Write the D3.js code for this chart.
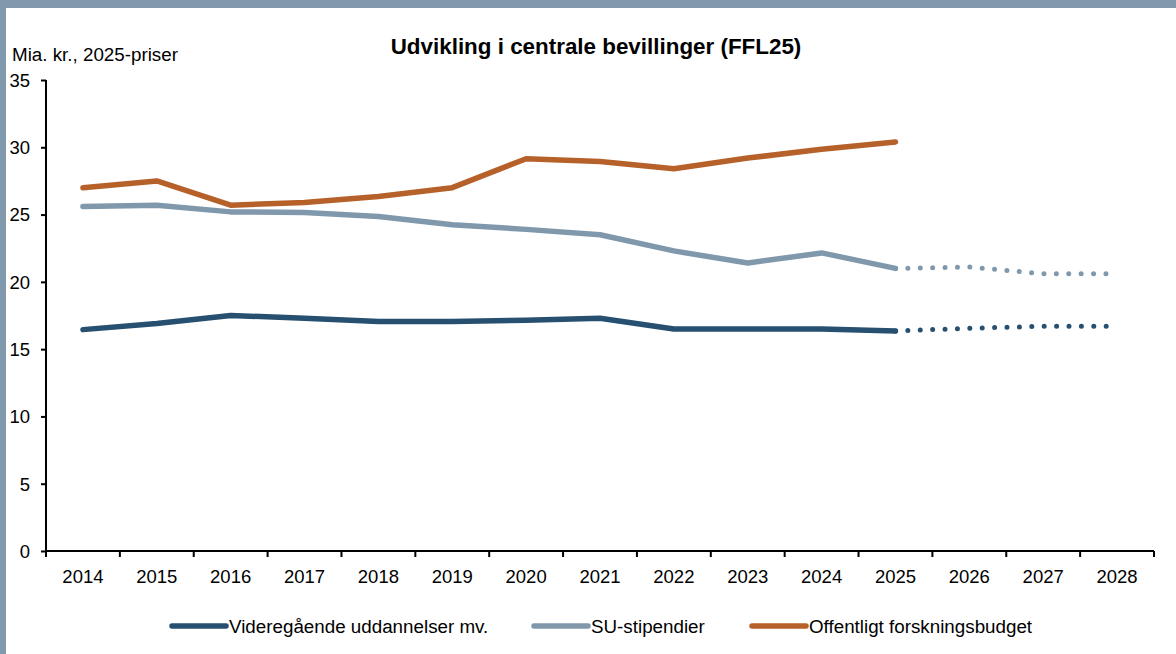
<!DOCTYPE html>
<html><head><meta charset="utf-8">
<script src="https://cdn.jsdelivr.net/npm/d3@7"></script>
<style>
html,body{margin:0;padding:0;background:#fff;}
svg{display:block;font-family:"Liberation Sans",Arial,sans-serif;}
</style></head>
<body>
<svg id="chart" width="1176" height="654"></svg>
<script>
const years = ["2014","2015","2016","2017","2018","2019","2020","2021","2022","2023","2024","2025","2026","2027","2028"];
const yTicks = [0,5,10,15,20,25,30,35];
const seriesNames = ["Videregående uddannelser mv.","SU-stipendier","Offentligt forskningsbudget"];
const seriesColors = ["#264f70","#8098ac","#b7612a"];
// solid (actual) values 2014-2025
const videregaaende = [16.45,16.9,17.5,17.3,17.05,17.05,17.15,17.3,16.5,16.5,16.5,16.35];
const suStipendier = [25.6,25.7,25.2,25.15,24.85,24.25,23.9,23.5,22.3,21.4,22.15,21.0];
const forskning = [27.0,27.5,25.7,25.9,26.35,27.0,29.15,28.95,28.4,29.2,29.85,30.4];
// projections 2025-2028 (dotted)
const videregaaendeProj = [16.35,16.55,16.7,16.7];
const suStipendierProj = [21.0,21.1,20.6,20.6];
const projYears = ["2025","2026","2027","2028"];

(function(){
const svg = d3.select("#chart");
const W = 1176, H = 654;
const mLeft = 46, mRight = 1154, mTop = 80, mBottom = 551;

// frame
svg.append("rect").attr("x",0).attr("y",0).attr("width",W).attr("height",8).attr("fill","#8199ad");
svg.append("rect").attr("x",0).attr("y",0).attr("width",6).attr("height",H).attr("fill","#8199ad");

const x = d3.scaleBand().domain(years).range([mLeft,mRight]).padding(0);
const y = d3.scaleLinear().domain([0,35]).range([mBottom,mTop]);
const cx = d => x(d) + x.bandwidth()/2;

// title
svg.append("text").attr("x",596).attr("y",54).attr("text-anchor","middle")
  .attr("font-size",22.4).attr("font-weight","bold").attr("fill","#000")
  .text("Udvikling i centrale bevillinger (FFL25)");
svg.append("text").attr("x",12).attr("y",61).attr("font-size",18.8).attr("fill","#000")
  .text("Mia. kr., 2025-priser");

// y axis
const yAxis = d3.axisLeft(y).tickValues(yTicks).tickSize(5).tickPadding(11).tickSizeOuter(0);
const gy = svg.append("g").attr("transform",`translate(${mLeft},0)`).call(yAxis);
gy.attr("font-size",null).attr("font-family",null);
gy.select(".domain").attr("stroke","#000").attr("stroke-width",2).attr("d",`M0,${mTop}V${mBottom}`);
gy.selectAll(".tick line").attr("stroke","#000").attr("stroke-width",2);
gy.selectAll(".tick text").attr("font-size",18.5).attr("fill","#000").attr("dy","0.34em");

// x axis: ticks at band boundaries
const gx = svg.append("g").attr("transform",`translate(0,${mBottom})`);
gx.append("line").attr("x1",mLeft).attr("x2",mRight).attr("stroke","#000").attr("stroke-width",2);
const bounds = years.map(d=>x(d)).concat([mRight]);
gx.selectAll("line.tk").data(bounds).enter().append("line").attr("class","tk")
  .attr("x1",d=>d).attr("x2",d=>d).attr("y1",0).attr("y2",6).attr("stroke","#000").attr("stroke-width",2);
gx.selectAll("text").data(years).enter().append("text")
  .attr("x",d=>cx(d)).attr("y",32).attr("text-anchor","middle").attr("font-size",18.5).attr("fill","#000")
  .text(d=>d);

const line = d3.line().x(d=>cx(d[0])).y(d=>y(d[1]));
const solidData = [videregaaende, suStipendier, forskning];
solidData.forEach((vals,i)=>{
  svg.append("path").datum(vals.map((v,j)=>[years[j],v]))
    .attr("d",line).attr("fill","none").attr("stroke",seriesColors[i])
    .attr("stroke-width",5.5).attr("stroke-linejoin","round").attr("stroke-linecap","round");
});
const projData = [videregaaendeProj, suStipendierProj];
projData.forEach((vals,i)=>{
  const pts = vals.map((v,j)=>[projYears[j],v]);
  svg.append("path").datum(pts)
    .attr("d",line).attr("fill","none").attr("stroke",seriesColors[i])
    .attr("stroke-width",5).attr("stroke-linecap","round")
    .attr("stroke-dasharray","0,12.4").attr("stroke-dashoffset",-12.4);
});

// legend
const legendX = [172, 534, 752];
seriesNames.forEach((n,i)=>{
  const g = svg.append("g");
  g.append("line").attr("x1",legendX[i]).attr("x2",legendX[i]+54).attr("y1",626).attr("y2",626)
    .attr("stroke",seriesColors[i]).attr("stroke-width",5.5).attr("stroke-linecap","round");
  g.append("text").attr("x",legendX[i]+57).attr("y",633).attr("font-size",18.8).attr("fill","#000").text(n);
});
})();
</script>
</body></html>
